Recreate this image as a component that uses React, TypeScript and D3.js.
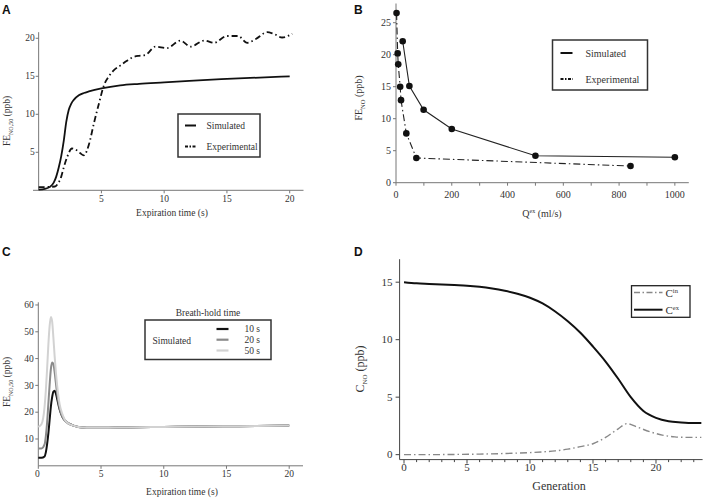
import React from 'react';
import * as d3 from 'd3';

// ---------- Panel A data ----------
const aSimTime = [0, 0.5, 0.9, 1.2, 1.4, 1.6, 1.8, 2.0, 2.2, 2.4, 2.6, 2.8, 3.2, 3.6, 4, 5, 6.5, 8, 10, 12, 15, 20];
const aSimValue = [0.1, 0.2, 0.45, 1.0, 1.8, 3.0, 4.5, 6.5, 9.0, 10.6, 11.4, 11.9, 12.5, 12.8, 13.0, 13.4, 13.8, 14.0, 14.2, 14.4, 14.65, 15.0];
const aExpTime = [0, 1.3, 1.5, 1.8, 2.0, 2.3, 2.65, 3.0, 3.3, 3.6, 4.0, 4.4, 4.8, 5.2, 5.6, 6.0, 6.5, 7, 7.5, 8, 8.5, 9.3, 10.2, 11.3, 12.1, 13.2, 13.95, 15.0, 15.9, 16.6, 17.3, 18.2, 18.7, 19.4, 20.2];
const aExpValue = [0.4, 0.5, 0.8, 1.8, 3.0, 4.5, 5.5, 5.3, 4.9, 4.6, 6.0, 8.8, 11.4, 13.8, 15.0, 15.8, 16.4, 17.0, 17.5, 17.7, 17.8, 18.9, 18.7, 19.7, 18.9, 19.7, 19.4, 20.3, 20.3, 19.4, 19.9, 20.8, 20.6, 20.1, 20.6];
const aXTicks = [5, 10, 15, 20];
const aYTicks = [5, 10, 15, 20];

// ---------- Panel B data ----------
const bSimFlow = [24, 48, 99, 200, 500, 1000];
const bSimValue = [22.1, 15.1, 11.4, 8.4, 4.2, 3.97];
const bExpFlow = [2, 6, 8, 15, 18, 37, 73, 841];
const bExpValue = [26.5, 20.2, 18.5, 15, 12.9, 7.7, 3.86, 2.6];
const bXTicks = [0, 200, 400, 600, 800, 1000];
const bYTicks = [0, 5, 10, 15, 20, 25];

// ---------- Panel C data ----------
const cTime = [0, 0.25, 0.5, 0.6, 0.7, 0.8, 0.9, 1.0, 1.1, 1.2, 1.3, 1.4, 1.5, 1.7, 1.9, 2.1, 2.4, 2.8, 3.2, 3.6, 4, 5, 7, 10, 13, 16, 20];
const c10Value = [3, 3, 3.5, 5, 8, 12, 17, 22, 25.5, 27.6, 28, 27, 25, 21, 18.5, 17, 15.8, 15, 14.5, 14.3, 14.2, 14.2, 14.3, 14.5, 14.7, 14.8, 15];
const c20Value = [6.5, 6.5, 8, 11, 16, 23, 30, 36, 38.5, 38, 35, 31, 27, 21.5, 18.5, 17, 15.8, 15, 14.5, 14.3, 14.2, 14.2, 14.3, 14.5, 14.7, 14.8, 15];
const c50Value = [14.5, 15.5, 22, 28, 36, 45, 52, 55.5, 54, 48, 41, 35, 30, 23, 19.5, 17.3, 15.8, 15, 14.5, 14.3, 14.2, 14.2, 14.3, 14.5, 14.7, 14.8, 15];
const cXTicks = [0, 5, 10, 15, 20];
const cYTicks = [10, 20, 30, 40, 50, 60];

// ---------- Panel D data ----------
const dExGen = [0, 1, 2, 3, 4, 5, 6, 7, 8, 9, 10, 11, 12, 13, 14, 15, 16, 17, 18, 19, 20, 21, 22, 23, 23.6];
const dExValue = [15.0, 14.9, 14.85, 14.8, 14.75, 14.7, 14.6, 14.45, 14.25, 14.0, 13.65, 13.15, 12.45, 11.6, 10.6, 9.4, 8.1, 6.6, 5.0, 3.8, 3.2, 2.9, 2.8, 2.75, 2.75];
const dInGen = [0, 2, 4, 6, 8, 10, 11, 12, 13, 14, 15, 16, 17, 17.7, 18.5, 19.5, 20.5, 21.5, 22.5, 23.6];
const dInValue = [0, 0, 0.02, 0.05, 0.1, 0.18, 0.24, 0.33, 0.48, 0.7, 0.95, 1.5, 2.25, 2.7, 2.4, 2.0, 1.7, 1.55, 1.5, 1.5];
const dXTicks = [0, 5, 10, 15, 20];
const dYTicks = [0, 5, 10, 15];

const SERIF = "'Times New Roman', 'Liberation Serif', 'DejaVu Serif', serif";
const SANS = "Arial, 'Liberation Sans', sans-serif";
const AXIS = '#777';
const TXT = '#333';

function makeLine(xs: number[], x: d3.ScaleLinear<number, number>, y: d3.ScaleLinear<number, number>) {
  return d3
    .line<number>()
    .x((_, i) => x(xs[i]))
    .y((d) => y(d))
    .curve(d3.curveMonotoneX);
}

const T = (props: any) => {
  const { size, children, style, ...rest } = props;
  return (
    <text {...rest} fill={TXT} style={{ fontFamily: SERIF, fontSize: size, ...(style || {}) }}>
      {children}
    </text>
  );
};

export default function App() {
  const ax = d3.scaleLinear().domain([-0.45, 21.1]).range([33, 303.5]);
  const ay = d3.scaleLinear().domain([0, 20.8]).range([190.3, 32.2]);
  const bx = d3.scaleLinear().domain([0, 1050]).range([396, 688.8]);
  const by = d3.scaleLinear().domain([0, 28]).range([182.7, 3.5]);
  const cx = d3.scaleLinear().domain([0, 21.1]).range([38.3, 303]);
  const cy = d3.scaleLinear().domain([0, 61]).range([465.8, 302.3]);
  const dx = d3.scaleLinear().domain([-0.35, 23.7]).range([399.6, 702.6]);
  const dy = d3.scaleLinear().domain([-0.43, 17]).range([459.6, 259.2]);

  const bMinor = d3.range(0, 1001, 100);
  const dMinor = d3.range(0, 24, 1);
  const letter = { fontFamily: SANS, fontWeight: 700, fontSize: 12 } as const;

  return (
    <svg width={708} height={498} style={{ position: 'absolute', left: 0, top: 0, background: '#fff' }}>
      <rect width={708} height={498} fill="#fff" />

      {/* ================= Panel A ================= */}
      <text x={2} y={14} fill="#111" style={letter}>A</text>
      <line x1={ax(-0.45)} x2={ax(21.1)} y1={ay(0)} y2={ay(0)} stroke={AXIS} strokeWidth={1} />
      <line x1={ax(0)} x2={ax(0)} y1={ay(0)} y2={ay(20.8)} stroke={AXIS} strokeWidth={1} />
      {aXTicks.map((t) => (
        <g key={'ax' + t}>
          <line x1={ax(t)} x2={ax(t)} y1={ay(0)} y2={ay(0) + 3} stroke={AXIS} />
          <T x={ax(t)} y={202} textAnchor="middle" size={9.5}>{t}</T>
        </g>
      ))}
      {aYTicks.map((t) => (
        <g key={'ay' + t}>
          <line x1={ax(0) - 3} x2={ax(0)} y1={ay(t)} y2={ay(t)} stroke={AXIS} />
          <T x={ax(0) - 4} y={ay(t) + 3} textAnchor="end" size={9.5}>{t}</T>
        </g>
      ))}
      <T x={172} y={216} textAnchor="middle" size={9.5}>Expiration time (s)</T>
      <T transform="translate(10,121) rotate(-90)" textAnchor="middle" size={9.5}>
        FE<tspan dy={2.5} style={{ fontSize: 6 }}>NO,50</tspan><tspan dy={-2.5}> (ppb)</tspan>
      </T>
      <path d={makeLine(aExpTime, ax, ay)(aExpValue) || ''} fill="none" stroke="#111" strokeWidth={1.8} strokeDasharray="6,3,1.5,3" />
      <path d={makeLine(aSimTime, ax, ay)(aSimValue) || ''} fill="none" stroke="#111" strokeWidth={1.8} />
      <rect x={178} y={114} width={82} height={43} fill="#fff" stroke="#333" strokeWidth={1.5} />
      <line x1={185} x2={196} y1={125.5} y2={125.5} stroke="#111" strokeWidth={2} />
      <line x1={185} x2={197} y1={146.5} y2={146.5} stroke="#111" strokeWidth={2} strokeDasharray="3,1.5,1.5,1.5" />
      <T x={206.5} y={128.5} size={9.5}>Simulated</T>
      <T x={206.5} y={149.5} size={9.5}>Experimental</T>

      {/* ================= Panel B ================= */}
      <text x={354} y={14} fill="#111" style={letter}>B</text>
      <line x1={bx(0)} x2={bx(1050)} y1={by(0)} y2={by(0)} stroke={AXIS} />
      <line x1={bx(0)} x2={bx(0)} y1={by(0)} y2={by(28)} stroke={AXIS} />
      {bMinor.map((t) => (
        <line key={'bm' + t} x1={bx(t)} x2={bx(t)} y1={by(0)} y2={by(0) + 3} stroke={AXIS} />
      ))}
      {bXTicks.map((t) => (
        <T key={'bx' + t} x={bx(t)} y={197.5} textAnchor="middle" size={10}>{t}</T>
      ))}
      {bYTicks.map((t) => (
        <g key={'by' + t}>
          <line x1={bx(0) - 3} x2={bx(0)} y1={by(t)} y2={by(t)} stroke={AXIS} />
          <T x={bx(0) - 5} y={by(t) + 3.5} textAnchor="end" size={10}>{t}</T>
        </g>
      ))}
      <T x={542} y={216.5} textAnchor="middle" size={10}>
        Q<tspan dy={-3.5} style={{ fontSize: 6 }}>ex</tspan><tspan dy={3.5}> (ml/s)</tspan>
      </T>
      <T transform="translate(362,98) rotate(-90)" textAnchor="middle" size={10}>
        FE<tspan dy={2.5} style={{ fontSize: 6.5 }}>NO</tspan><tspan dy={-2.5}> (ppb)</tspan>
      </T>
      <path d={d3.line<number>().x((_, i) => bx(bExpFlow[i])).y((d) => by(d))(bExpValue) || ''} fill="none" stroke="#222" strokeWidth={1.1} strokeDasharray="7,3,1.5,3" />
      <path d={d3.line<number>().x((_, i) => bx(bSimFlow[i])).y((d) => by(d))(bSimValue) || ''} fill="none" stroke="#222" strokeWidth={1.1} />
      {bExpValue.map((v, i) => (
        <circle key={'be' + i} cx={bx(bExpFlow[i])} cy={by(v)} r={3.3} fill="#111" />
      ))}
      {bSimValue.map((v, i) => (
        <circle key={'bs' + i} cx={bx(bSimFlow[i])} cy={by(v)} r={3.3} fill="#111" />
      ))}
      <rect x={552.5} y={40} width={95} height={50} fill="#fff" stroke="#333" strokeWidth={1.5} />
      <line x1={560.5} x2={572.5} y1={53} y2={53} stroke="#111" strokeWidth={2} />
      <line x1={560.5} x2={573} y1={79} y2={79} stroke="#111" strokeWidth={2} strokeDasharray="3,1.5,1.5,1.5" />
      <T x={585.5} y={56.5} size={10}>Simulated</T>
      <T x={585.5} y={82.5} size={10}>Experimental</T>

      {/* ================= Panel C ================= */}
      <text x={2} y={256} fill="#111" style={letter}>C</text>
      <line x1={cx(0)} x2={cx(21.1)} y1={cy(0)} y2={cy(0)} stroke={AXIS} />
      <line x1={cx(0)} x2={cx(0)} y1={cy(0)} y2={cy(61)} stroke={AXIS} />
      {cXTicks.map((t) => (
        <g key={'cx' + t}>
          <line x1={cx(t)} x2={cx(t)} y1={cy(0)} y2={cy(0) + 3} stroke={AXIS} />
          <T x={cx(t) - (t === 0 ? 1 : 0)} y={476.5} textAnchor="middle" size={9.5}>{t}</T>
        </g>
      ))}
      {cYTicks.map((t) => (
        <g key={'cy' + t}>
          <line x1={cx(0) - 3} x2={cx(0)} y1={cy(t)} y2={cy(t)} stroke={AXIS} />
          <T x={cx(0) - 4.5} y={cy(t) + 3.3} textAnchor="end" size={9.5}>{t}</T>
        </g>
      ))}
      <T x={182} y={494.5} textAnchor="middle" size={9.5}>Expiration time (s)</T>
      <T transform="translate(10,382) rotate(-90)" textAnchor="middle" size={9.5}>
        FE<tspan dy={2.5} style={{ fontSize: 6 }}>NO,50</tspan><tspan dy={-2.5}> (ppb)</tspan>
      </T>
      <path d={makeLine(cTime, cx, cy)(c10Value) || ''} fill="none" stroke="#111" strokeWidth={2} />
      <path d={makeLine(cTime, cx, cy)(c20Value) || ''} fill="none" stroke="#8a8a8a" strokeWidth={2} />
      <path d={makeLine(cTime, cx, cy)(c50Value) || ''} fill="none" stroke="#d2d2d2" strokeWidth={2} />
      <T x={208} y={315.5} textAnchor="middle" size={9.5}>Breath-hold time</T>
      <rect x={145} y={320} width={126} height={39.5} fill="#fff" stroke="#333" strokeWidth={1.5} />
      <T x={152.5} y={343.5} size={9.5}>Simulated</T>
      <line x1={216.5} x2={228.5} y1={329} y2={329} stroke="#111" strokeWidth={2.2} />
      <line x1={216.5} x2={228.5} y1={339.7} y2={339.7} stroke="#8a8a8a" strokeWidth={2.2} />
      <line x1={216.5} x2={228.5} y1={350.5} y2={350.5} stroke="#d2d2d2" strokeWidth={2.2} />
      <T x={260} y={332.3} textAnchor="end" size={9.5}>10 s</T>
      <T x={260} y={343} textAnchor="end" size={9.5}>20 s</T>
      <T x={260} y={353.8} textAnchor="end" size={9.5}>50 s</T>

      {/* ================= Panel D ================= */}
      <text x={354} y={256} fill="#111" style={letter}>D</text>
      <line x1={dx(-0.35)} x2={dx(23.7)} y1={dy(-0.43)} y2={dy(-0.43)} stroke="#444" />
      <line x1={dx(-0.35)} x2={dx(-0.35)} y1={dy(-0.43)} y2={dy(17)} stroke="#444" />
      {dMinor.map((t) => (
        <line key={'dm' + t} x1={dx(t)} x2={dx(t)} y1={dy(-0.43)} y2={dy(-0.43) + (t % 5 === 0 ? 4 : 2.5)} stroke="#444" />
      ))}
      {dXTicks.map((t) => (
        <T key={'dx' + t} x={dx(t)} y={471} textAnchor="middle" size={11}>{t}</T>
      ))}
      {dYTicks.map((t) => (
        <g key={'dy' + t}>
          <line x1={dx(-0.35) - 4} x2={dx(-0.35)} y1={dy(t)} y2={dy(t)} stroke="#444" />
          <T x={dx(-0.35) - 7} y={dy(t) + 3.8} textAnchor="end" size={11}>{t}</T>
        </g>
      ))}
      <T x={559} y={490} textAnchor="middle" size={12}>Generation</T>
      <T transform="translate(364,369) rotate(-90)" textAnchor="middle" size={12}>
        C<tspan dy={3} style={{ fontSize: 7 }}>NO</tspan><tspan dy={-3}> (ppb)</tspan>
      </T>
      <path d={makeLine(dInGen, dx, dy)(dInValue) || ''} fill="none" stroke="#888" strokeWidth={1.4} strokeDasharray="7,3,1.5,3" />
      <path d={makeLine(dExGen, dx, dy)(dExValue) || ''} fill="none" stroke="#111" strokeWidth={2} />
      <rect x={631.5} y={285.7} width={58.5} height={31.6} fill="#fff" stroke="#222" strokeWidth={1.3} />
      <line x1={634} x2={662.5} y1={292.5} y2={292.5} stroke="#888" strokeWidth={1.4} strokeDasharray="6,2.5,1.5,2.5" />
      <line x1={634} x2={662.5} y1={309.7} y2={309.7} stroke="#111" strokeWidth={2} />
      <T x={665.5} y={296.5} size={11}>
        C<tspan dy={-4} style={{ fontSize: 6.5 }}>in</tspan>
      </T>
      <T x={665.5} y={313.7} size={11}>
        C<tspan dy={-4} style={{ fontSize: 6.5 }}>ex</tspan>
      </T>
    </svg>
  );
}
